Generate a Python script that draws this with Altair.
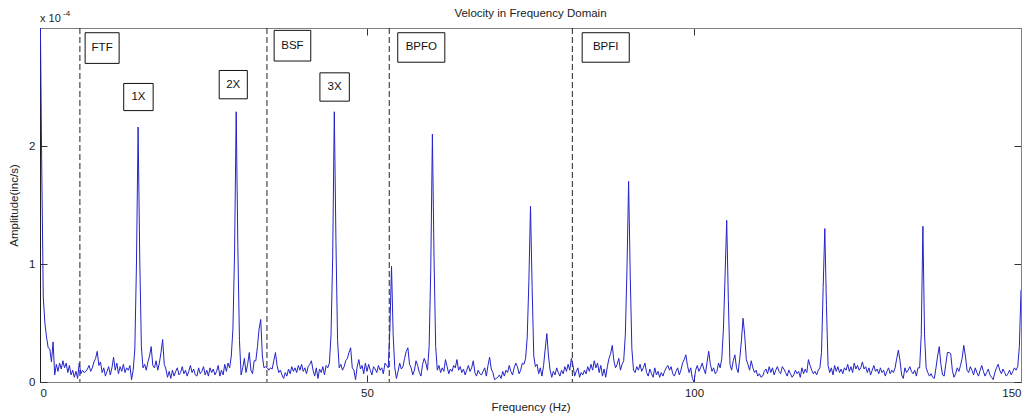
import altair as alt
import pandas as pd

FONT = "Liberation Sans"

# Velocity spectrum, 0.25 Hz line spacing, amplitude in units of 1e-4 in/s
df_hz = 0.25
amplitude = [
    3.40, 1.90, 0.72, 0.50, 0.38, 0.29, 0.28, 0.17, 0.34, 0.06, 0.15, 0.09, 0.16, 0.11, 0.18, 0.12, 0.16, 0.08, 0.14, 0.06,
    0.10, 0.04, 0.09, 0.03, 0.16, 0.07, 0.10, 0.08, 0.09, 0.11, 0.14, 0.09, 0.12, 0.17, 0.20, 0.26, 0.14, 0.17, 0.08, 0.12,
    0.05, 0.09, 0.13, 0.06, 0.12, 0.21, 0.10, 0.16, 0.07, 0.13, 0.09, 0.15, 0.08, 0.12, 0.10, 0.14, 0.02, 0.10, 0.28, 1.00,
    2.16, 1.05, 0.30, 0.12, 0.15, 0.10, 0.17, 0.22, 0.30, 0.14, 0.12, 0.18, 0.10, 0.16, 0.25, 0.36, 0.15, 0.11, 0.04, 0.09,
    0.03, 0.10, 0.05, 0.09, 0.12, 0.06, 0.08, 0.13, 0.07, 0.10, 0.05, 0.09, 0.14, 0.08, 0.11, 0.06, 0.05, 0.12, 0.07, 0.09,
    0.13, 0.06, 0.10, 0.05, 0.12, 0.08, 0.11, 0.06, 0.09, 0.14, 0.05, 0.10, 0.06, 0.15, 0.09, 0.16, 0.12, 0.22, 0.45, 1.10,
    2.29, 1.15, 0.35, 0.06, 0.12, 0.20, 0.08, 0.15, 0.25, 0.10, 0.07, 0.18, 0.18, 0.30, 0.45, 0.53, 0.22, 0.12, 0.13, 0.12,
    0.10, 0.12, 0.11, 0.18, 0.25, 0.14, 0.08, 0.10, 0.06, 0.03, 0.08, 0.05, 0.11, 0.07, 0.13, 0.09, 0.12, 0.08, 0.14, 0.10,
    0.15, 0.09, 0.12, 0.07, 0.13, 0.15, 0.18, 0.10, 0.05, 0.12, 0.03, 0.11, 0.08, 0.13, 0.06, 0.14, 0.12, 0.16, 0.40, 1.05,
    2.29, 1.20, 0.35, 0.12, 0.15, 0.10, 0.13, 0.18, 0.20, 0.25, 0.29, 0.12, 0.10, 0.02, 0.13, 0.19, 0.11, 0.14, 0.07, 0.16,
    0.09, 0.15, 0.10, 0.06, 0.13, 0.11, 0.08, 0.14, 0.10, 0.12, 0.07, 0.16, 0.14, 0.12, 0.45, 0.98, 0.40, 0.12, 0.03, 0.09,
    0.16, 0.11, 0.13, 0.20, 0.26, 0.29, 0.15, 0.12, 0.06, 0.10, 0.18, 0.14, 0.08, 0.05, 0.15, 0.20, 0.16, 0.10, 0.30, 0.95,
    2.10, 1.05, 0.30, 0.10, 0.14, 0.08, 0.12, 0.09, 0.19, 0.13, 0.07, 0.11, 0.09, 0.14, 0.12, 0.19, 0.10, 0.13, 0.08, 0.11,
    0.06, 0.10, 0.14, 0.09, 0.12, 0.18, 0.08, 0.05, 0.10, 0.07, 0.06, 0.09, 0.12, 0.05, 0.14, 0.21, 0.11, 0.08, 0.02, 0.03,
    0.04, 0.06, 0.03, 0.09, 0.05, 0.10, 0.08, 0.14, 0.09, 0.06, 0.12, 0.16, 0.13, 0.07, 0.10, 0.16, 0.15, 0.20, 0.38, 0.85,
    1.49, 0.80, 0.22, 0.13, 0.15, 0.07, 0.12, 0.05, 0.14, 0.28, 0.41, 0.22, 0.10, 0.04, 0.09, 0.06, 0.12, 0.08, 0.05, 0.10,
    0.07, 0.13, 0.09, 0.15, 0.10, 0.20, 0.14, 0.05, 0.09, 0.12, 0.04, 0.08, 0.06, 0.10, 0.07, 0.13, 0.09, 0.15, 0.10, 0.18,
    0.12, 0.16, 0.08, 0.14, 0.05, 0.11, 0.04, 0.13, 0.20, 0.24, 0.31, 0.18, 0.12, 0.15, 0.20, 0.10, 0.15, 0.18, 0.40, 0.95,
    1.70, 0.90, 0.28, 0.10, 0.08, 0.13, 0.10, 0.15, 0.09, 0.12, 0.16, 0.08, 0.05, 0.11, 0.07, 0.04, 0.12, 0.06, 0.09, 0.04,
    0.08, 0.05, 0.09, 0.12, 0.14, 0.10, 0.13, 0.07, 0.05, 0.09, 0.12, 0.06, 0.10, 0.16, 0.19, 0.23, 0.14, 0.08, 0.12, 0.03,
    0.00, 0.10, 0.14, 0.09, 0.12, 0.16, 0.11, 0.07, 0.17, 0.26, 0.15, 0.09, 0.12, 0.07, 0.09, 0.16, 0.12, 0.20, 0.45, 0.90,
    1.37, 0.70, 0.15, 0.10, 0.18, 0.23, 0.12, 0.08, 0.20, 0.35, 0.54, 0.40, 0.19, 0.15, 0.10, 0.18, 0.12, 0.08, 0.10, 0.05,
    0.07, 0.04, 0.05, 0.09, 0.11, 0.07, 0.13, 0.08, 0.12, 0.06, 0.10, 0.13, 0.09, 0.07, 0.13, 0.11, 0.08, 0.05, 0.10, 0.07,
    0.04, 0.06, 0.10, 0.07, 0.09, 0.04, 0.12, 0.07, 0.11, 0.08, 0.19, 0.14, 0.10, 0.07, 0.09, 0.06, 0.10, 0.12, 0.25, 0.80,
    1.30, 0.65, 0.14, 0.08, 0.12, 0.06, 0.14, 0.09, 0.13, 0.08, 0.11, 0.07, 0.12, 0.10, 0.15, 0.09, 0.13, 0.08, 0.16, 0.11,
    0.14, 0.10, 0.12, 0.17, 0.11, 0.13, 0.08, 0.12, 0.06, 0.10, 0.14, 0.09, 0.11, 0.07, 0.12, 0.08, 0.10, 0.05, 0.09, 0.12,
    0.07, 0.10, 0.08, 0.12, 0.20, 0.27, 0.18, 0.06, 0.03, 0.12, 0.08, 0.10, 0.13, 0.09, 0.07, 0.10, 0.05, 0.12, 0.12, 0.40,
    1.32, 0.40, 0.12, 0.08, 0.05, 0.07, 0.04, 0.03, 0.12, 0.22, 0.30, 0.15, 0.06, 0.05, 0.15, 0.25, 0.25, 0.24, 0.10, 0.04,
    0.07, 0.12, 0.09, 0.14, 0.20, 0.31, 0.22, 0.10, 0.08, 0.13, 0.10, 0.06, 0.12, 0.08, 0.05, 0.10, 0.14, 0.09, 0.05, 0.08,
    0.11, 0.06, 0.04, 0.02, 0.08, 0.12, 0.15, 0.10, 0.07, 0.11, 0.08, 0.05, 0.07, 0.10, 0.06, 0.09, 0.12, 0.10, 0.13, 0.30,
    0.78,
]
freq = [round(i * df_hz, 2) for i in range(len(amplitude))]

# Bearing defect frequencies (Hz)
fault_names = ["FTF", "BSF", "BPFO", "BPFI"]
fault_freqs = [6.1, 34.7, 53.4, 81.4]

# Boxed text annotations: extents in Hz and in 1e-4 in/s
note_labels = ["FTF", "BSF", "1X", "2X", "3X", "BPFO", "BPFI"]
note_left = [6.9, 35.8, 12.8, 27.4, 42.8, 54.7, 82.9]
note_right = [12.1, 41.4, 17.3, 31.7, 47.3, 61.9, 90.1]
note_bottom = [2.70, 2.72, 2.30, 2.40, 2.38, 2.71, 2.71]
note_top = [2.96, 2.98, 2.53, 2.64, 2.62, 2.96, 2.96]

x_ticks = [0, 50, 100, 150]
y_ticks = [0, 1, 2]

spec = pd.DataFrame({"freq": freq, "amp": amplitude})
faults = pd.DataFrame({"name": fault_names, "f": fault_freqs})
notes = pd.DataFrame({
    "label": note_labels,
    "left": note_left,
    "right": note_right,
    "bottom": note_bottom,
    "top": note_top,
})
notes["xc"] = (notes["left"] + notes["right"]) / 2
notes["yc"] = (notes["bottom"] + notes["top"]) / 2

xs = alt.Scale(domain=[0, 150], nice=False, zero=False)
ys = alt.Scale(domain=[0, 3], nice=False)

TICK_IN = {"expr": "-7"}

x_bottom = alt.Axis(
    values=x_ticks, title="Frequency (Hz)", grid=False, orient="bottom",
    tickSize=TICK_IN, tickColor="#333333", domainColor="#808080",
    labelPadding=12, titlePadding=3, labelFont=FONT, titleFont=FONT,
    labelFontSize=11.5, titleFontSize=11.5, titleFontWeight="normal",
    labelColor="#222222", titleColor="#222222",
)
y_left = alt.Axis(
    values=y_ticks, title="Amplitude(inc/s)", grid=False, orient="left",
    tickSize=TICK_IN, tickColor="#333333", domainColor="#202020",
    labelPadding=12, titlePadding=9, labelFont=FONT, titleFont=FONT,
    labelFontSize=11.5, titleFontSize=11.5, titleFontWeight="normal",
    labelColor="#222222", titleColor="#222222",
)
x_top = alt.Axis(
    values=x_ticks, title=None, grid=False, orient="top", labels=False,
    tickSize=TICK_IN, tickColor="#333333", domainColor="#808080",
)
y_right = alt.Axis(
    values=y_ticks, title=None, grid=False, orient="right", labels=False,
    tickSize=TICK_IN, tickColor="#333333", domainColor="#808080",
)

fault_lines = alt.Chart(faults).mark_rule(
    color="#222222", strokeWidth=1, strokeDash=[6, 3]
).encode(x=alt.X("f:Q", scale=xs, axis=None))

spectrum = alt.Chart(spec).mark_line(
    color="#2323c8", strokeWidth=1, clip=True, interpolate="linear"
).encode(
    x=alt.X("freq:Q", scale=xs, axis=x_bottom),
    y=alt.Y("amp:Q", scale=ys, axis=y_left),
)

frame_axes = alt.Chart(spec).mark_line(opacity=0).encode(
    x=alt.X("freq:Q", scale=xs, axis=x_top),
    y=alt.Y("amp:Q", scale=ys, axis=y_right),
)

boxes = alt.Chart(notes).mark_rect(
    fill="white", stroke="#111111", strokeWidth=1
).encode(
    x=alt.X("left:Q", scale=xs, axis=None),
    x2="right:Q",
    y=alt.Y("bottom:Q", scale=ys, axis=None),
    y2="top:Q",
)

labels = alt.Chart(notes).mark_text(
    font=FONT, fontSize=11.5, color="#111111", align="center", baseline="middle"
).encode(
    x=alt.X("xc:Q", scale=xs, axis=None),
    y=alt.Y("yc:Q", scale=ys, axis=None),
    text="label:N",
)

head_df = pd.DataFrame({
    "title": ["Velocity in Frequency Domain"], "t": ["x 10"], "e": ["-4"],
})
title_mark = alt.Chart(head_df).mark_text(
    font=FONT, fontSize=11.5, color="#222222", align="center", baseline="alphabetic"
).encode(x=alt.value(490.5), y=alt.value(-11), text="title:N")
exp_base = alt.Chart(head_df).mark_text(
    font=FONT, fontSize=11, color="#222222", align="left", baseline="alphabetic"
).encode(x=alt.value(0), y=alt.value(-6), text="t:N")
exp_sup = alt.Chart(head_df).mark_text(
    font=FONT, fontSize=8, color="#222222", align="left", baseline="alphabetic"
).encode(x=alt.value(23), y=alt.value(-12), text="e:N")

chart = alt.layer(
    fault_lines, spectrum, frame_axes, boxes, labels, title_mark, exp_base, exp_sup
).resolve_axis(
    x="independent", y="independent"
).properties(
    width=981,
    height=354,
    autosize=alt.AutoSizeParams(type="none"),
    padding={"left": 40, "top": 28, "right": 14, "bottom": 37},
    background="white",
).configure_view(
    stroke="#808080", strokeWidth=1
)

chart.save("out.html", embed_options={"renderer": "svg", "actions": False})
